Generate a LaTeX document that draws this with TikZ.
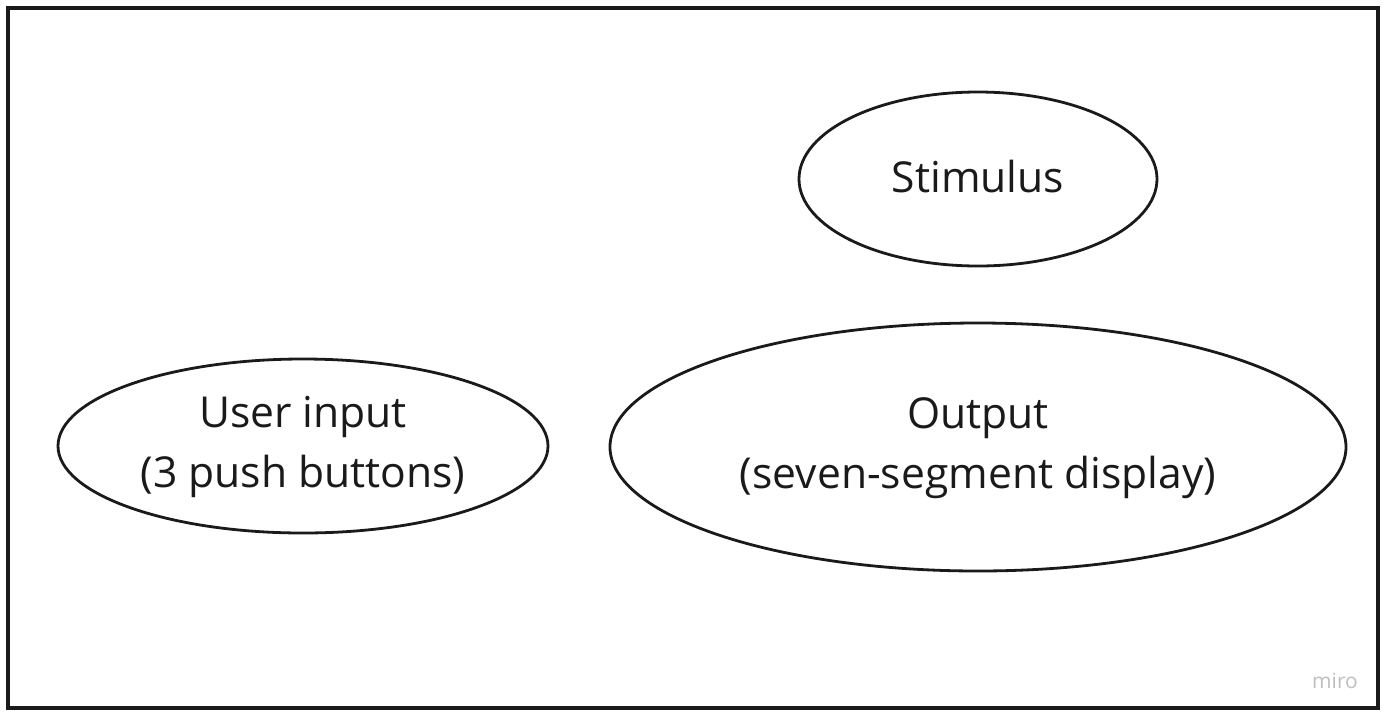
\documentclass[tikz,border=0pt]{standalone}
\usepackage{fontspec}
\setmainfont{Open Sans}
\usetikzlibrary{shapes.geometric}
\definecolor{ink}{HTML}{1A1A1A}
\tikzset{
  oval/.style={ellipse, draw=ink, line width=1.4pt, inner sep=0pt},
  lbl/.style={text=ink, font=\fontsize{21.3}{30}\selectfont, align=center},
}
\begin{document}
\begin{tikzpicture}[x=0.5pt,y=-0.5pt]
\useasboundingbox (0,0) rectangle (1389,719);
\fill[white] (0,0) rectangle (1389,719);
\node[draw=ink, line width=2pt, minimum width=685pt, minimum height=350pt, inner sep=0pt] (frame) at (693,358) {};
\node[oval, minimum width=179pt, minimum height=87pt] (stim) at (978,179) {};
\node[lbl] (stimt) at (978,177) {Stimulus};
\node[oval, minimum width=245pt, minimum height=87pt] (user) at (303,446) {};
\node[lbl] (usert) at (303,447) {User input\\(3 push buttons)};
\node[oval, minimum width=368pt, minimum height=124pt] (out) at (978,447) {};
\node[lbl] (outt) at (978,448) {Output\\(seven-segment display)};
\node[text=black!25, font=\fontsize{10.5}{12}\selectfont, anchor=center] (miro) at (1335,681) {miro};
\end{tikzpicture}
\end{document}
